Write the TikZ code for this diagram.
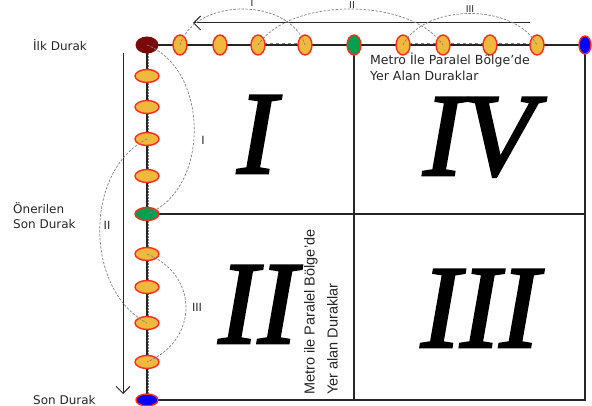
\documentclass[tikz,border=0pt]{standalone}
\usepackage{fontspec}
\setmainfont{Liberation Serif}
\newfontfamily\romfont[FakeBold=2.2]{Liberation Serif}
\newfontfamily\lblfont{DejaVu Sans}
\newfontfamily\arialfont{Liberation Sans}
\usetikzlibrary{shapes.geometric,arrows.meta}
\definecolor{stfill}{HTML}{F0B83C}
\definecolor{stedge}{HTML}{FF2A1A}
\definecolor{maroon}{HTML}{7A0A0A}
\definecolor{stgreen}{HTML}{00A050}
\definecolor{lnc}{HTML}{262626}
\tikzset{
  st/.style={ellipse, draw=stedge, line width=1.4pt, fill=stfill, inner sep=0pt},
  stv/.style={st, minimum width=14pt, minimum height=20pt},
  sth/.style={st, minimum width=24pt, minimum height=13pt},
  frame/.style={draw=lnc, line width=1.2pt},
  arc/.style={draw=gray, dashed, line width=0.7pt, dash pattern=on 2.5pt off 1.5pt},
  lbl/.style={font=\lblfont\fontsize{12}{15}\selectfont, text=lnc, align=left, inner sep=0pt},
  roman/.style={font=\romfont\fontsize{118}{118}\selectfont\itshape, inner sep=0pt, text height=78pt, text depth=0pt},
  small/.style={font=\arialfont\fontsize{12}{12}\selectfont, text=lnc, inner sep=0pt},
  bigarrow/.style={draw=lnc, line width=1pt, -{Straight Barb[length=7pt,width=14pt]}}
}
\begin{document}
\begin{tikzpicture}[x=1pt,y=-1pt]
\useasboundingbox (0,0) rectangle (592,406);
% corner / junction coordinates
\coordinate (br) at (585,400);
\coordinate (mb) at (354,400);
\coordinate (mr) at (585,214);
\path (147,45) coordinate (tlc) (585,45) coordinate (trc) (147,400) coordinate (blc)
      (354,45) coordinate (gtc) (147,214) coordinate (glc);
\draw[frame] (tlc) -- (trc) -- (br) -- (blc) -- cycle;
\draw[frame] (gtc) -- (mb);
\draw[frame] (glc) -- (mr);
\draw[draw=gray, line width=1pt, dashed, dash pattern=on 2pt off 1pt] (148,50) -- (148,395);
\draw[draw=gray, line width=0.8pt, dashed] (258,43) -- (305,43);
\draw[draw=gray, line width=0.8pt, dashed] (403,43) -- (537,43);
% arrows
\coordinate (ta1) at (530,23);
\coordinate (ta2) at (193,23);
\draw[bigarrow] (ta1) -- (ta2);
\coordinate (la1) at (123,53);
\coordinate (la2) at (123,394);
\draw[bigarrow] (la1) -- (la2);
% top stations
\node[ellipse, fill=maroon, minimum width=23pt, minimum height=17pt, inner sep=0pt] (s0) at (tlc) {};
\node[stv] (t1) at (180,45) {};
\node[stv] (t2) at (220,45) {};
\node[stv] (t3) at (258,45) {};
\node[stv] (t4) at (305,45) {};
\node[stv, fill=stgreen] (t5) at (gtc) {};
\node[stv] (t6) at (403,45) {};
\node[stv] (t7) at (443,45) {};
\node[stv] (t8) at (490,45) {};
\node[stv] (t9) at (537,45) {};
\node[stv, fill=blue, minimum width=12pt, minimum height=18pt] (t10) at (trc) {};
% left stations
\node[sth] (l1) at (147,76) {};
\node[sth] (l2) at (147,107) {};
\node[sth] (l3) at (147,139) {};
\node[sth] (l4) at (147,176) {};
\node[sth, fill=stgreen] (l5) at (glc) {};
\node[sth] (l6) at (147,254) {};
\node[sth] (l7) at (147,287) {};
\node[sth] (l8) at (147,323) {};
\node[sth] (l9) at (147,362) {};
\node[sth, fill=blue, minimum width=22pt, minimum height=12pt] (l10) at (blc) {};
% dashed arcs top
\draw[arc] (t1.center) .. controls (195,-3) and (290,-3) .. (t4.center);
\draw[arc] (t3.center) .. controls (290,-3) and (410,-3) .. (t7.center);
\draw[arc] (t6.center) .. controls (425,3) and (515,3) .. (t9.center);
\node[small, font=\arialfont\fontsize{10}{10}\selectfont] (ai) at (252,3) {I};
\node[small, font=\arialfont\fontsize{10}{10}\selectfont] (aii) at (352,5) {II};
\node[small, font=\arialfont\fontsize{10}{10}\selectfont] (aiii) at (470,9) {III};
% dashed arcs left
\draw[arc] (s0.center) .. controls (210,70) and (210,190) .. (l5.center);
\draw[arc] (l3.center) .. controls (84,170) and (84,290) .. (l8.center);
\draw[arc] (l6.center) .. controls (199,275) and (199,340) .. (l9.center);
\node[small] (bi) at (203,140) {I};
\node[small] (bii) at (107,225) {II};
\node[small] (biii) at (197,307) {III};
% roman numerals
\node[roman, anchor=base] (q1) at (257,173) {I};
\node[roman, anchor=base] (q4) at (479,175) {IV};
\node[roman, anchor=base] (q2) at (258,343) {II};
\node[roman, anchor=base] (q3) at (480,347) {III};
% labels
\node[lbl, anchor=west] (ilk) at (33,45) {İlk Durak};
\node[lbl, anchor=west] (oner) at (13,216) {Önerilen\\Son Durak};
\node[lbl, anchor=west] (son) at (33,400) {Son Durak};
\node[lbl, anchor=base west, font=\lblfont\fontsize{12.5}{16}\selectfont] (metro) at (370,81) {Metro İle Paralel Bölge’de\\Yer Alan Duraklar};
\node[anchor=north west, rotate=90, align=left, inner sep=0pt, text=lnc,
      font=\arialfont\fontsize{14.5}{23}\selectfont] (metro2) at (304,395) {Metro ile Paralel Bölge’de\\Yer alan Duraklar};
\end{tikzpicture}
\end{document}
